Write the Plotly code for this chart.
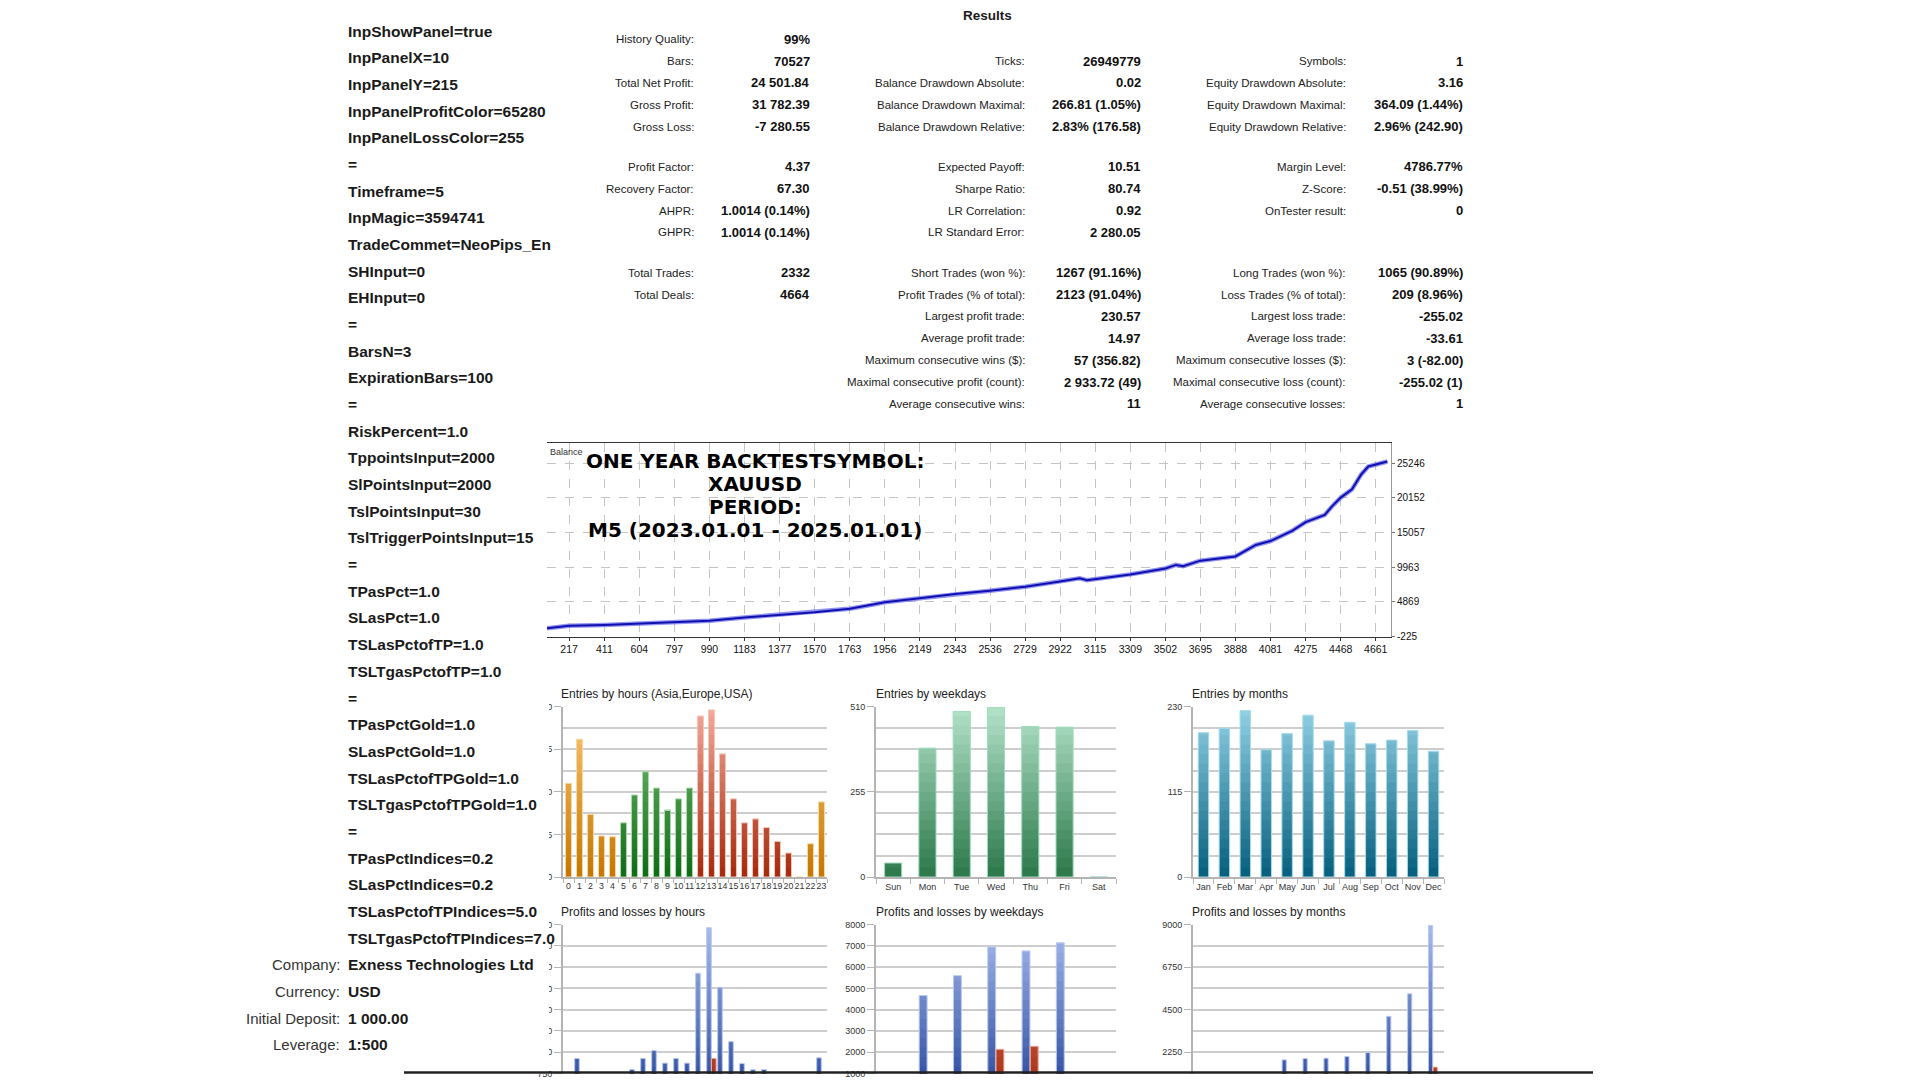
import plotly.graph_objects as go

W, H = 1920, 1080
FONT = "Liberation Sans"

# ---------------- data ----------------
params = ["InpShowPanel=true", "InpPanelX=10", "InpPanelY=215", "InpPanelProfitColor=65280",
          "InpPanelLossColor=255", "=", "Timeframe=5", "InpMagic=3594741", "TradeCommet=NeoPips_En",
          "SHInput=0", "EHInput=0", "=", "BarsN=3", "ExpirationBars=100", "=", "RiskPercent=1.0",
          "TppointsInput=2000", "SlPointsInput=2000", "TslPointsInput=30", "TslTriggerPointsInput=15",
          "=", "TPasPct=1.0", "SLasPct=1.0", "TSLasPctofTP=1.0", "TSLTgasPctofTP=1.0", "=",
          "TPasPctGold=1.0", "SLasPctGold=1.0", "TSLasPctofTPGold=1.0", "TSLTgasPctofTPGold=1.0", "=",
          "TPasPctIndices=0.2", "SLasPctIndices=0.2", "TSLasPctofTPIndices=5.0", "TSLTgasPctofTPIndices=7.0"]
account_labels = ["Company:", "Currency:", "Initial Deposit:", "Leverage:"]
account_values = ["Exness Technologies Ltd", "USD", "1 000.00", "1:500"]

col1_labels = ["History Quality:", "Bars:", "Total Net Profit:", "Gross Profit:", "Gross Loss:",
               "Profit Factor:", "Recovery Factor:", "AHPR:", "GHPR:", "Total Trades:", "Total Deals:",
               None, None, None, None, None]
col1_values = ["99%", "70527", "24 501.84", "31 782.39", "-7 280.55", "4.37", "67.30",
               "1.0014 (0.14%)", "1.0014 (0.14%)", "2332", "4664", None, None, None, None, None]
col2_labels = [None, "Ticks:", "Balance Drawdown Absolute:", "Balance Drawdown Maximal:",
               "Balance Drawdown Relative:", "Expected Payoff:", "Sharpe Ratio:", "LR Correlation:",
               "LR Standard Error:", "Short Trades (won %):", "Profit Trades (% of total):",
               "Largest profit trade:", "Average profit trade:", "Maximum consecutive wins ($):",
               "Maximal consecutive profit (count):", "Average consecutive wins:"]
col2_values = [None, "26949779", "0.02", "266.81 (1.05%)", "2.83% (176.58)", "10.51", "80.74", "0.92",
               "2 280.05", "1267 (91.16%)", "2123 (91.04%)", "230.57", "14.97", "57 (356.82)",
               "2 933.72 (49)", "11"]
col3_labels = [None, "Symbols:", "Equity Drawdown Absolute:", "Equity Drawdown Maximal:",
               "Equity Drawdown Relative:", "Margin Level:", "Z-Score:", "OnTester result:", None,
               "Long Trades (won %):", "Loss Trades (% of total):", "Largest loss trade:",
               "Average loss trade:", "Maximum consecutive losses ($):", "Maximal consecutive loss (count):",
               "Average consecutive losses:"]
col3_values = [None, "1", "3.16", "364.09 (1.44%)", "2.96% (242.90)", "4786.77%", "-0.51 (38.99%)", "0",
               None, "1065 (90.89%)", "209 (8.96%)", "-255.02", "-33.61", "3 (-82.00)", "-255.02 (1)", "1"]

balance_x = [95, 217, 411, 604, 797, 990, 1183, 1377, 1570, 1763, 1900, 1956, 2149, 2343, 2536, 2729,
             2922, 3030, 3070, 3115, 3309, 3502, 3560, 3600, 3695, 3888, 4000, 4081, 4200, 4275, 4380,
             4420, 4468, 4530, 4580, 4620, 4680, 4725]
balance_y = [1000, 1361, 1457, 1697, 1890, 2082, 2563, 2947, 3332, 3860, 4500, 4821, 5398, 6023, 6503,
             7080, 7849, 8330, 8041, 8185, 8906, 9772, 10300, 10108, 10925, 11550, 13232, 13808, 15300,
             16596, 17653, 18900, 20200, 21402, 23565, 24767, 25246, 25502]
balance_xticks = [217, 411, 604, 797, 990, 1183, 1377, 1570, 1763, 1956, 2149, 2343, 2536, 2729, 2922,
                  3115, 3309, 3502, 3695, 3888, 4081, 4275, 4468, 4661]
balance_yticks = [-225, 4869, 9963, 15057, 20152, 25246]
overlay_lines = ["ONE YEAR BACKTESTSYMBOL:", "XAUUSD", "PERIOD:", "M5 (2023.01.01 - 2025.01.01)"]

hour_labels = [str(h) for h in range(24)]
hour_session = ["Asia"] * 5 + ["Europe"] * 7 + ["USA"] * 9 + ["Asia"] * 3
hour_entries = [121, 178, 81, 53, 52, 70, 106, 136, 115, 86, 101, 115, 208, 216, 159, 101, 70, 75, 64,
                46, 31, 0, 43, 97]
weekday_labels = ["Sun", "Mon", "Tue", "Wed", "Thu", "Fri", "Sat"]
weekday_entries = [42, 386, 496, 508, 451, 449, 0]
month_labels = ["Jan", "Feb", "Mar", "Apr", "May", "Jun", "Jul", "Aug", "Sep", "Oct", "Nov", "Dec"]
month_entries = [195, 201, 225, 172, 194, 218, 184, 209, 180, 185, 198, 170]

hour_profit = [400, 1283, 350, 300, 300, 450, 893, 1283, 1560, 1118, 1283, 1118, 4283, 5888, 3788, 1875,
               1103, 885, 893, 500, 350, 0, 400, 1305]
hour_loss = [250, 360, 230, 190, 180, 220, 320, 380, 340, 280, 320, 360, 560, 1283, 400, 340, 220, 240,
             200, 150, 100, 0, 130, 300]
weekday_profit = [680, 4667, 5597, 6946, 6760, 7132, 0]
weekday_loss = [90, 880, 950, 2140, 2279, 940, 0]
month_profit = [820, 860, 840, 880, 1849, 1919, 1936, 2023, 2233, 4151, 5337, 8948]
month_loss = [420, 450, 480, 430, 500, 520, 540, 560, 600, 650, 665, 1465]

# ---------------- helpers ----------------
def px(x):
    return x / W

def py(y):
    return 1 - y / H

annotations = []
PAD = {"left": -3, "right": 4, "center": 0}

def text(x, y, s, size, bold=False, anchor="left", color="#1a1a1a", family=FONT):
    annotations.append(dict(x=px(x + PAD[anchor]), y=py(y - 3), xref="paper", yref="paper",
                            text=("<b>%s</b>" % s) if bold else s, showarrow=False,
                            xanchor=anchor, yanchor="middle",
                            font=dict(family=family, size=size, color=color)))

def rgb(h):
    return tuple(int(h[i:i + 2], 16) for i in (1, 3, 5))

def mix(dark, light, t):
    a, b = rgb(dark), rgb(light)
    return "rgb(%d,%d,%d)" % tuple(round(a[i] + (b[i] - a[i]) * t) for i in range(3))

fig = go.Figure()

def gradient_bars(xs, values, darks, lights, ymax, xa, ya, width, offset, outline, nb=18):
    h = ymax / nb
    for k in range(nb):
        lo = k * h
        seg = [max(0, min(v, lo + h * 1.2) - lo) if v > lo else 0 for v in values]
        cols = [mix(d, l, (k + 0.5) / nb) for d, l in zip(darks, lights)]
        fig.add_trace(go.Bar(x=xs, y=seg, base=[lo] * len(xs), width=width, offset=offset,
                             marker=dict(color=cols, line=dict(width=0)),
                             xaxis=xa, yaxis=ya, showlegend=False, hoverinfo="skip"))
    fig.add_trace(go.Bar(x=xs, y=values, width=width, offset=offset,
                         marker=dict(color="rgba(0,0,0,0)", line=dict(color=outline, width=1)),
                         xaxis=xa, yaxis=ya, showlegend=False, hoverinfo="skip"))

# ---------------- left panel ----------------
for i, s in enumerate(params):
    text(349, 29.4 + 26.95 * i, s, 15.5, bold=True)
for j, (lab, val) in enumerate(zip(account_labels, account_values)):
    y = 29.4 + 26.95 * (len(params) + j)
    text(338, y, lab, 15, anchor="right", color="#333")
    text(349, y, val, 15.5, bold=True)

# ---------------- results ----------------
text(988, 14, "Results", 13.5, bold=True, anchor="center")
row_y = [37.5, 59.6, 81.7, 103.8, 125.9, 166.5, 188.6, 210.7, 232.8, 273.5, 295.6, 317.7, 339.8, 361.9,
         384, 406.1]
for labels, values, lx, vx in [(col1_labels, col1_values, 692, 808),
                               (col2_labels, col2_values, 1023, 1139),
                               (col3_labels, col3_values, 1344, 1461)]:
    for y, lab, val in zip(row_y, labels, values):
        if lab:
            text(lx, y, lab, 11.5, anchor="right", color="#222")
        if val:
            text(vx, y, val, 13, bold=True, anchor="right", color="#111")

# ---------------- balance chart ----------------
fig.add_trace(go.Scatter(x=balance_x, y=balance_y, mode="lines",
                         line=dict(color="rgba(110,110,235,0.75)", width=4.5),
                         xaxis="x", yaxis="y", showlegend=False, hoverinfo="skip"))
fig.add_trace(go.Scatter(x=balance_x, y=balance_y, mode="lines",
                         line=dict(color="#1010b0", width=2),
                         xaxis="x", yaxis="y", showlegend=False, hoverinfo="skip"))
text(551, 455, "Balance", 9, color="#333")
for i, s in enumerate(overlay_lines):
    text(755, 463.5 + 23.4 * i, s, 20, bold=True, anchor="center", color="#000", family="DejaVu Sans")

# ---------------- entries charts ----------------
sess_dark = {"Asia": "#c47600", "Europe": "#0f6a14", "USA": "#a3290b"}
sess_light = {"Asia": "#fcca78", "Europe": "#80c680", "USA": "#f5ab9c"}
sess_line = {"Asia": "#f8d7a0", "Europe": "#a8dca8", "USA": "#f6c4b8"}
gradient_bars(hour_labels, hour_entries, [sess_dark[s] for s in hour_session],
              [sess_light[s] for s in hour_session], 220, "x2", "y2", 0.54, -0.27,
              [sess_line[s] for s in hour_session])
gradient_bars(weekday_labels, weekday_entries, ["#2a7749"] * 7, ["#b4e3ca"] * 7, 510, "x3", "y3",
              0.5, -0.25, "#9fdcbc")
gradient_bars(month_labels, month_entries, ["#055e7c"] * 12, ["#94d2e6"] * 12, 230, "x4", "y4",
              0.5, -0.25, "#a6dcec")

# ---------------- profit / loss charts ----------------
for xs, prof, loss, ymax, xa, ya, w, ob, orr in [
        (hour_labels, hour_profit, hour_loss, 6000, "x5", "y5", 0.42, -0.44, 0.0),
        (weekday_labels, weekday_profit, weekday_loss, 8000, "x6", "y6", 0.23, -0.24, 0.0),
        (month_labels, month_profit, month_loss, 9000, "x7", "y7", 0.2, -0.24, -0.02)]:
    n = len(xs)
    gradient_bars(xs, prof, ["#26469a"] * n, ["#a8bcec"] * n, ymax, xa, ya, w, ob, "#b8c8f0")
    gradient_bars(xs, loss, ["#a02c14"] * n, ["#ec8a6c"] * n, ymax, xa, ya, w, orr, "#f0a890")

# ---------------- chart titles ----------------
for x, y, s in [(562, 699, "Entries by hours (Asia,Europe,USA)"), (877, 699, "Entries by weekdays"),
                (1193, 699, "Entries by months"), (562, 919, "Profits and losses by hours"),
                (877, 919, "Profits and losses by weekdays"), (1193, 919, "Profits and losses by months")]:
    text(x, y, s, 12, color="#222")

# ---------------- axes ----------------
GRID = "#cdcdcd"
AX = "#b4b4b4"
tickf = dict(family=FONT, size=9, color="#333")
layout_axes = {}
layout_axes["xaxis"] = dict(domain=[px(547), px(1391)], range=[95, 4745], tickmode="array",
                            tickvals=balance_xticks, ticktext=[str(v) for v in balance_xticks],
                            tickfont=dict(family=FONT, size=10.5, color="#111"), showgrid=True,
                            gridcolor="#c4c4c4", griddash="dash", gridwidth=1, zeroline=False,
                            showline=True, mirror=True, linecolor="#333", linewidth=1, anchor="y",
                            ticks="outside", ticklen=3, tickcolor="#333")
layout_axes["yaxis"] = dict(domain=[py(638), py(443)], range=[-225, 28150], side="right",
                            tickmode="array", tickvals=balance_yticks,
                            ticktext=[str(v) for v in balance_yticks],
                            tickfont=dict(family=FONT, size=10, color="#111"), showgrid=True,
                            gridcolor="#c4c4c4", griddash="dash", gridwidth=1, zeroline=False,
                            showline=True, linecolor="#999", linewidth=1, anchor="x",
                            ticks="outside", ticklen=3, tickcolor="#777")

cols = [(563, 827, hour_labels), (876, 1116, weekday_labels), (1193, 1444, month_labels)]
entries_y = [(220, 55, 27.5), (510, 255, 63.75), (230, 115, 28.75)]
pl_y = [(735, 6000, 750, None), (980, 8000, 1000, None), (1102, 9000, 2250, 1125)]
for i, (x0, x1, labs) in enumerate(cols):
    n = len(labs)
    ia, ib = i + 2, i + 5
    xbase = dict(domain=[px(x0), px(x1)], type="category", range=[-0.5, n - 0.5],
                 categoryorder="array", categoryarray=labs, showgrid=False, zeroline=False)
    layout_axes["xaxis%d" % ia] = dict(xbase, anchor="y%d" % ia, showline=True, linecolor=AX,
                                       linewidth=1.5, tickfont=dict(tickf, size=9 if i else 8.8),
                                       tickmode="array", tickvals=labs, ticktext=labs, tickangle=0,
                                       ticks="outside", tickson="boundaries",
                                       ticklen=4 if i == 0 else 5, tickcolor=AX)
    layout_axes["xaxis%d" % ib] = dict(xbase, anchor="y%d" % ib, showline=False,
                                       showticklabels=False, ticks="")
    ymax, dt, mdt = entries_y[i]
    layout_axes["yaxis%d" % ia] = dict(domain=[py(881), py(709)], range=[0, ymax], tickmode="linear",
                                       tick0=0, dtick=dt, tickfont=tickf, showgrid=True, gridcolor=GRID,
                                       gridwidth=2, minor=dict(dtick=mdt, tick0=0, showgrid=True,
                                                               gridcolor=GRID, gridwidth=2),
                                       zeroline=False, showline=True, linecolor=AX, linewidth=2,
                                       ticks="outside", ticklen=7, tickcolor=AX, anchor="x%d" % ia)
    lo, hi, dt2, mdt2 = pl_y[i]
    yb = dict(domain=[0, py(929)], range=[lo, hi], tickmode="linear", tick0=0, dtick=dt2,
              tickfont=tickf, showgrid=True, gridcolor=GRID, gridwidth=2, zeroline=False,
              showline=True, linecolor=AX, linewidth=2, ticks="outside", ticklen=7, tickcolor=AX,
              anchor="x%d" % ib)
    if mdt2:
        yb["minor"] = dict(dtick=mdt2, tick0=0, showgrid=True, gridcolor=GRID, gridwidth=2)
    layout_axes["yaxis%d" % ib] = yb

shapes = [
    dict(type="rect", xref="paper", yref="paper", x0=0, x1=px(549), y0=0, y1=py(688),
         fillcolor="white", line=dict(width=0), layer="above"),
    dict(type="line", xref="paper", yref="paper", x0=px(404), x1=px(1593), y0=py(1078.5), y1=py(1078.5),
         line=dict(color="#222", width=2.5), layer="above"),
]

fig.update_layout(width=W, height=H, margin=dict(l=0, r=0, t=0, b=0), paper_bgcolor="white",
                  plot_bgcolor="white", barmode="overlay", showlegend=False, annotations=annotations,
                  shapes=shapes, font=dict(family=FONT), **layout_axes)

fig.write_html("out.html", config={"displayModeBar": False},
               post_script="document.body.style.margin='0';document.body.style.overflow='hidden';")
